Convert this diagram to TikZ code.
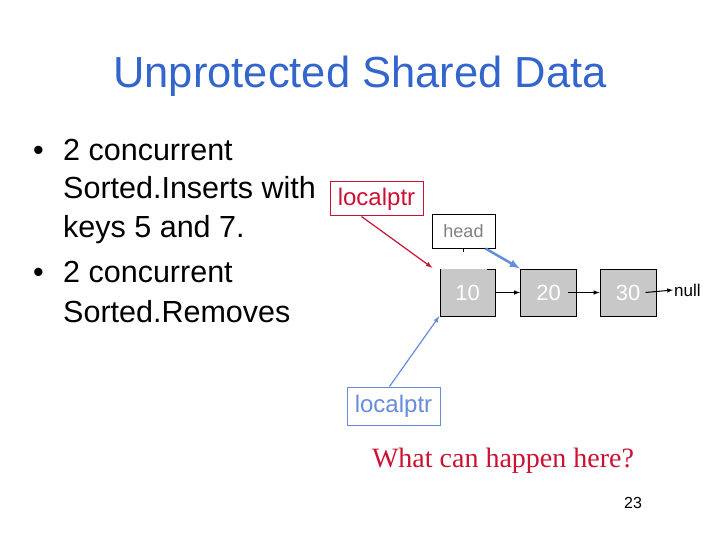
\documentclass[tikz,border=0pt]{standalone}
\usepackage{fontspec}
\setmainfont{Liberation Sans}
\newfontfamily\timesfont{Liberation Serif}
\definecolor{titleblue}{RGB}{51,102,204}
\definecolor{ptrred}{RGB}{204,17,51}
\definecolor{ptrblue}{RGB}{102,140,220}
\definecolor{cellgray}{RGB}{200,200,200}
\tikzset{
  cell/.style={fill=cellgray,minimum width=56pt,minimum height=47pt,inner sep=0pt,
    text=white,font=\fontsize{22}{22}\selectfont},
  ptrbox/.style={draw,line width=1pt,inner sep=2pt,font=\fontsize{24}{24}\selectfont},
  link/.style={-latex,line width=1pt},
  bodytext/.style={anchor=base west,inner sep=0pt,font=\fontsize{30.5}{30.5}\selectfont}
}
\begin{document}
\begin{tikzpicture}[x=1pt,y=-1pt]
\useasboundingbox (0,0) rectangle (720,540);
\node[text=titleblue,font=\fontsize{43.5}{43.5}\selectfont] (title) at (360,76) {Unprotected Shared Data};
% bullets
\node[bodytext] (b1) at (33,161) {\textbullet};
\node[bodytext] (l1) at (63,161) {2 concurrent};
\node[bodytext] (l2) at (63,199) {Sorted.Inserts with};
\node[bodytext] (l3) at (63,237) {keys 5 and 7.};
\node[bodytext] (b2) at (33,282) {\textbullet};
\node[bodytext] (l4) at (63,282) {2 concurrent};
\node[bodytext] (l5) at (63,322) {Sorted.Removes};
% list
\node[cell] (n10) at (467.5,292.5) {10};
\draw[line width=1pt] (495,269) -- (487,269) (495,269) -- (495,316) -- (440,316) -- (440,269);
\node[cell,draw,line width=1pt] (n20) at (548.5,292.5) {20};
\node[cell,draw,line width=1pt] (n30) at (628,292.5) {30};
\node[anchor=west,inner sep=1pt,font=\fontsize{17}{17}\selectfont] (null) at (673,290) {null};
\draw[link] (n10.east) -- (n20.west);
\draw[link] ([xshift=-9pt]n20.east) -- (n30.west);
\draw[link] ([xshift=-11pt]n30.east) -- (null.west);
% pointers
\node[ptrbox,draw=ptrred,text=ptrred,minimum width=93pt,minimum height=34pt] (redptr) at (376.5,199) {localptr};
\node[ptrbox,draw=black,text=gray,font=\fontsize{18}{18}\selectfont,minimum width=63pt,minimum height=33pt] (head) at (463.5,231.5) {head};
\node[ptrbox,draw=ptrblue,text=ptrblue,minimum width=93pt,minimum height=38pt] (blueptr) at (393.5,406) {localptr};
\draw[line width=1pt] (head.south) -- ++(0,3);
\draw[-latex,ptrred,line width=1.2pt] ([xshift=-15pt]redptr.south) -- ([xshift=-7pt,yshift=1pt]n10.north west);
\draw[-latex,ptrblue,line width=2.5pt] ([xshift=-10pt]head.south east) -- (n20.north west);
\draw[-latex,ptrblue,line width=1.2pt] ([xshift=-4pt]blueptr.north) -- (n10.south west);
% footer
\node[text=ptrred,font=\timesfont\fontsize{28}{28}\selectfont] (question) at (503,461) {What can happen here?};
\node[font=\fontsize{16}{16}\selectfont] (page) at (633,503) {23};
\end{tikzpicture}
\end{document}
